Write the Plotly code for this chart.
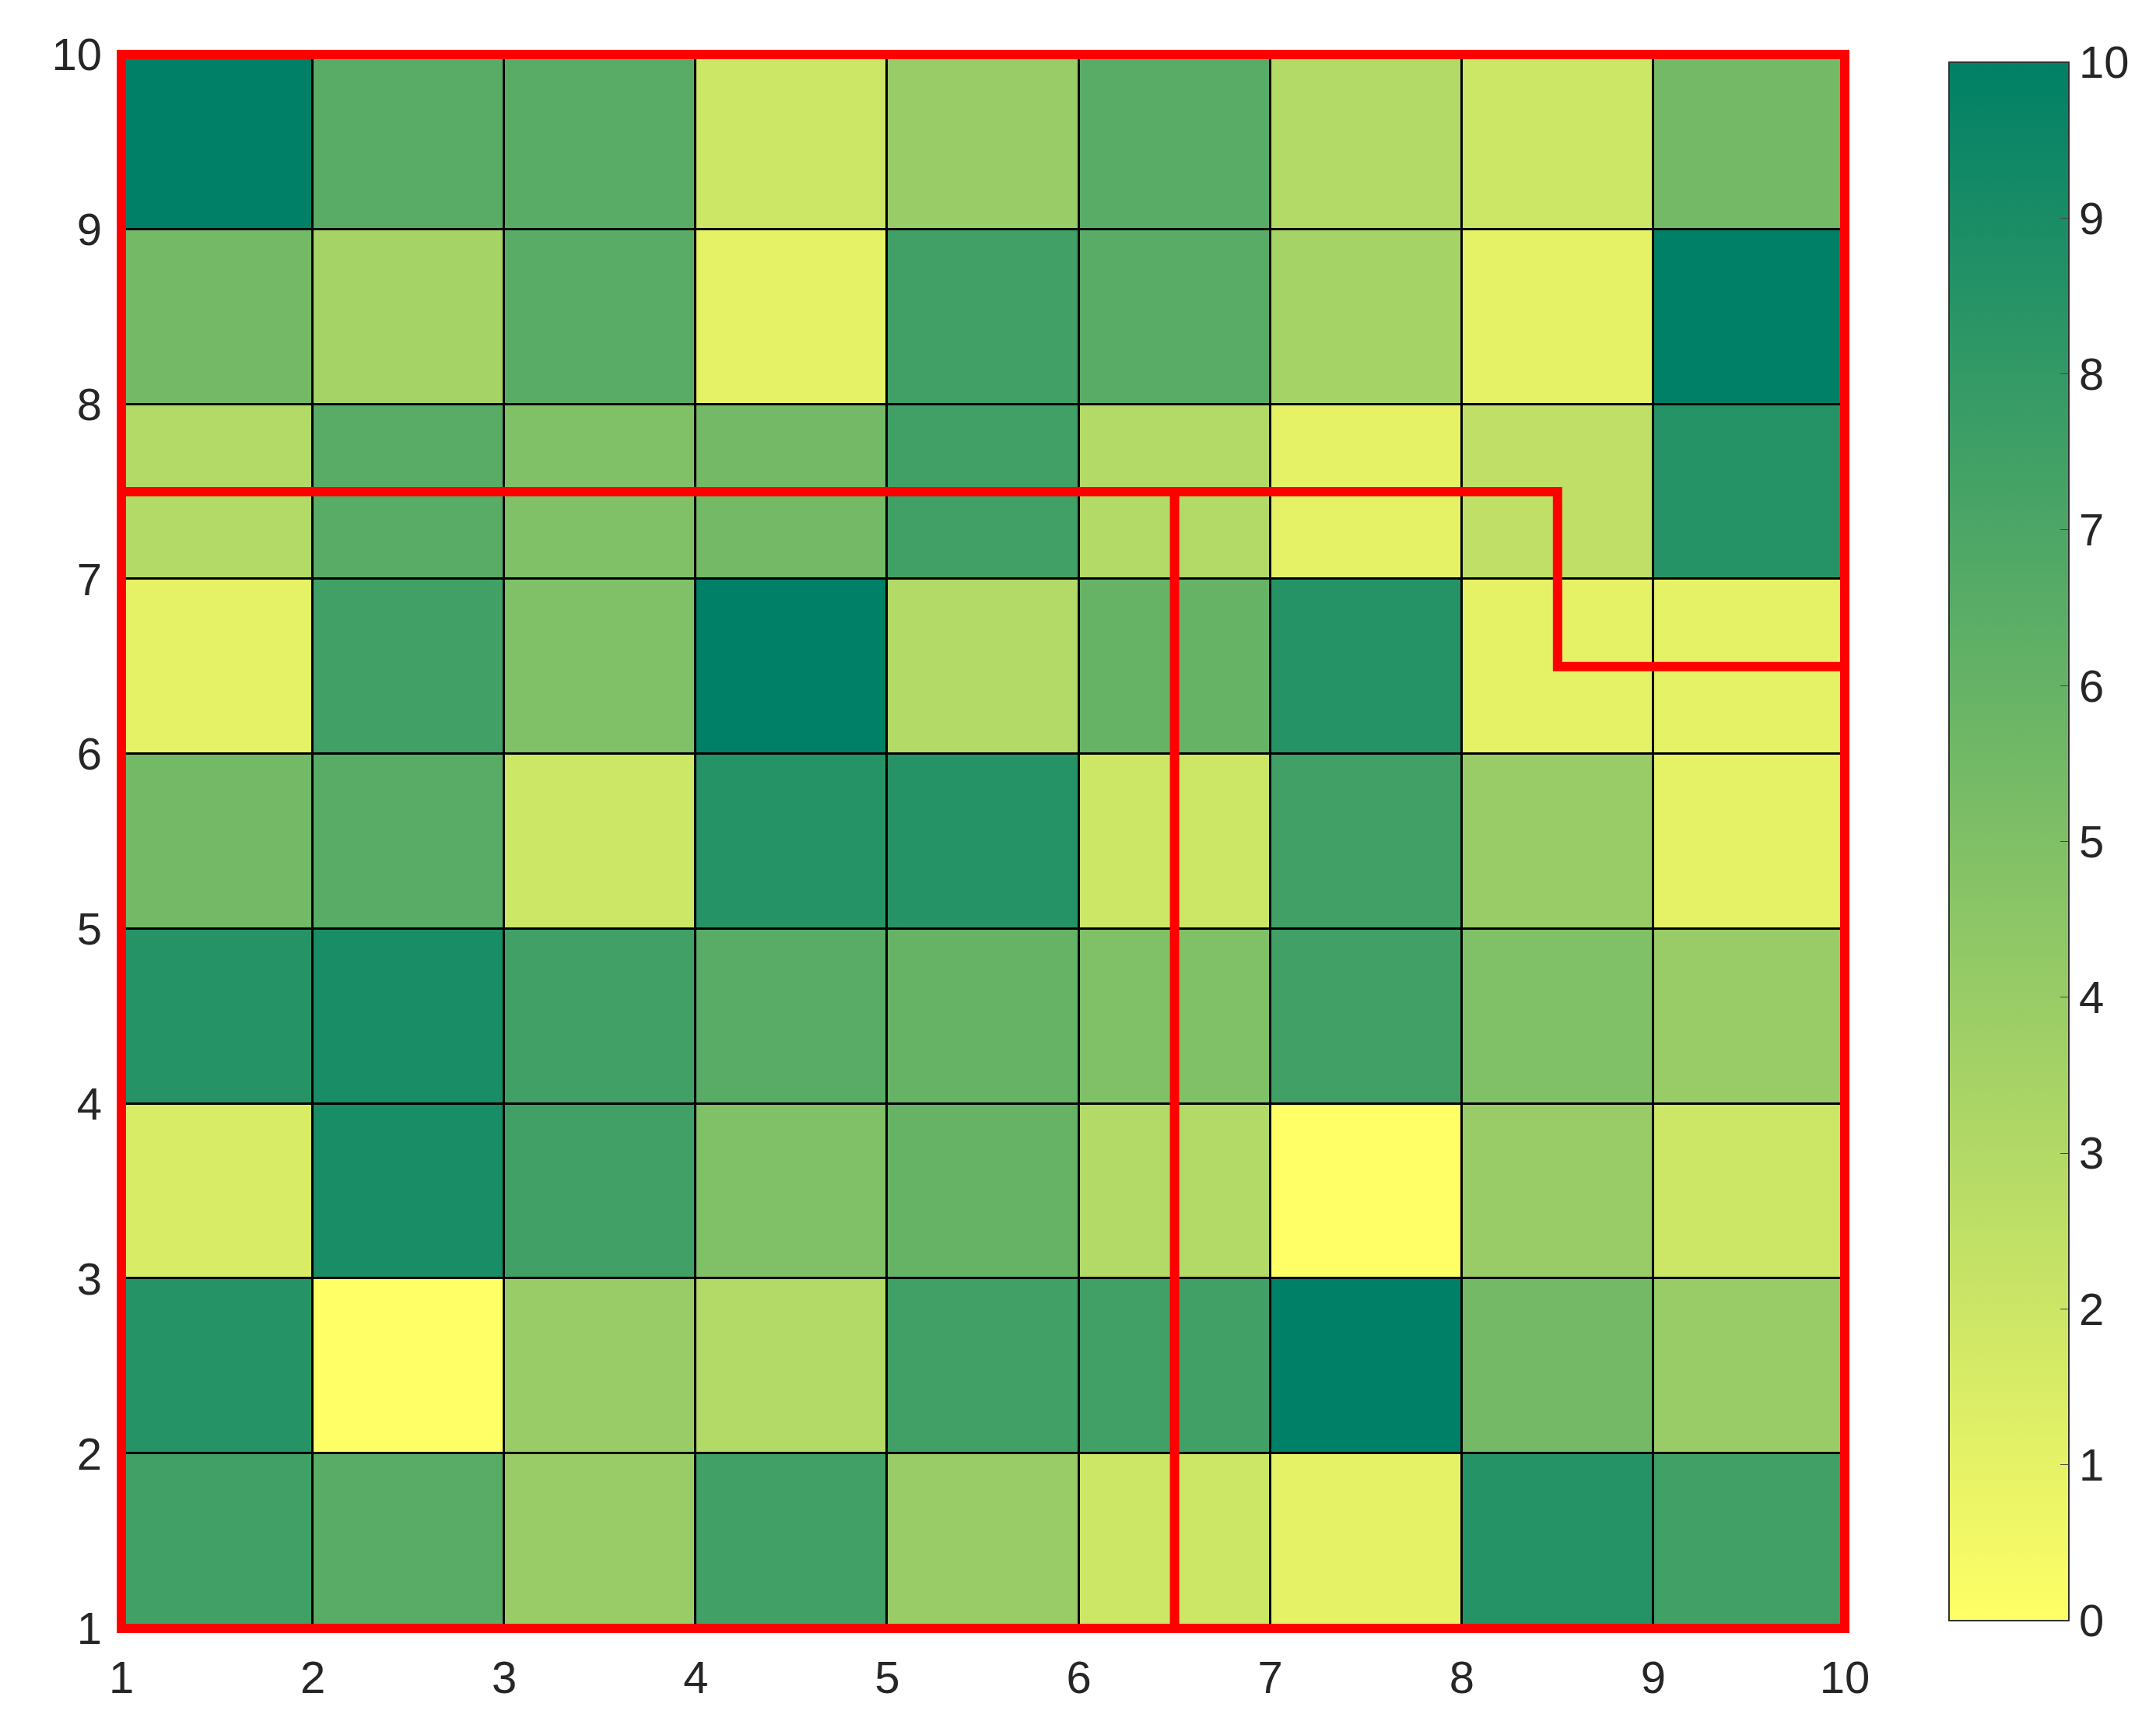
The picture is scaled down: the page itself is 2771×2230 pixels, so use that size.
import plotly.graph_objects as go

x_centers = [1.5, 2.5, 3.5, 4.5, 5.5, 6.5, 7.5, 8.5, 9.5]
y_centers = [1.5, 2.5, 3.5, 4.5, 5.5, 6.5, 7.5, 8.5, 9.5]
# rows from bottom (y=1-2) to top (y=9-10)
z_rows = [
    [7.5, 6.5, 4, 7.5, 4, 2, 1, 8.5, 7.5],
    [8.5, 0, 4, 3, 7.5, 7.5, 10, 5.5, 4],
    [1.5, 9, 7.5, 5, 6, 3, 0, 4, 2],
    [8.5, 9, 7.5, 6.5, 6, 5, 7.5, 5, 4],
    [5.5, 6.5, 2, 8.5, 8.5, 2, 7.5, 4, 1],
    [1, 7.5, 5, 10, 3, 6, 8.5, 1, 1],
    [3, 6.5, 5, 5.5, 7.5, 3, 1, 2.5, 8.5],
    [5.5, 3.5, 6.5, 1, 7.5, 6.5, 3.5, 1, 10],
    [10, 6.5, 6.5, 2, 4, 6.5, 3, 2, 5.5],
]
tick_vals = list(range(1, 11))
cbar_ticks = list(range(0, 11))
red_path_x = [1, 8.5, 8.5, 10]
red_path_y = [7.5, 7.5, 6.5, 6.5]
red_vert_x = [6.5, 6.5]
red_vert_y = [1, 7.5]

summer_r = [[0, "rgb(255,255,102)"], [1, "rgb(0,128,102)"]]
fnt = dict(size=58, family="Liberation Sans", color="#262626")

fig = go.Figure()
fig.add_trace(go.Heatmap(
    x=x_centers, y=y_centers, z=z_rows, zmin=0, zmax=10,
    colorscale=summer_r, xgap=3, ygap=3,
    colorbar=dict(x=1.056, xanchor="left", y=0, yanchor="bottom", len=1,
                  lenmode="fraction", thickness=154, outlinewidth=2,
                  outlinecolor="#333", tickvals=cbar_ticks, ticks="inside",
                  ticklen=12, tickfont=fnt),
))
lw = 12
for xs, ys in [(red_path_x, red_path_y), (red_vert_x, red_vert_y)]:
    fig.add_trace(go.Scatter(x=xs, y=ys, mode="lines",
                             line=dict(color="red", width=lw), showlegend=False, hoverinfo="skip"))
fig.add_shape(type="rect", xref="paper", yref="paper", x0=0, x1=1, y0=0, y1=1,
              line=dict(color="red", width=lw), layer="above")
fig.update_layout(
    width=2771, height=2230,
    margin=dict(l=148, r=408, t=62, b=145),
    plot_bgcolor="black", paper_bgcolor="white",
    font=fnt,
    xaxis=dict(range=[1, 10], tickvals=tick_vals, showgrid=False, zeroline=False, ticks="", ticklabelstandoff=24),
    yaxis=dict(range=[1, 10], tickvals=tick_vals, showgrid=False, zeroline=False, ticks="", ticklabelstandoff=24),
)
fig.write_html("out.html")
